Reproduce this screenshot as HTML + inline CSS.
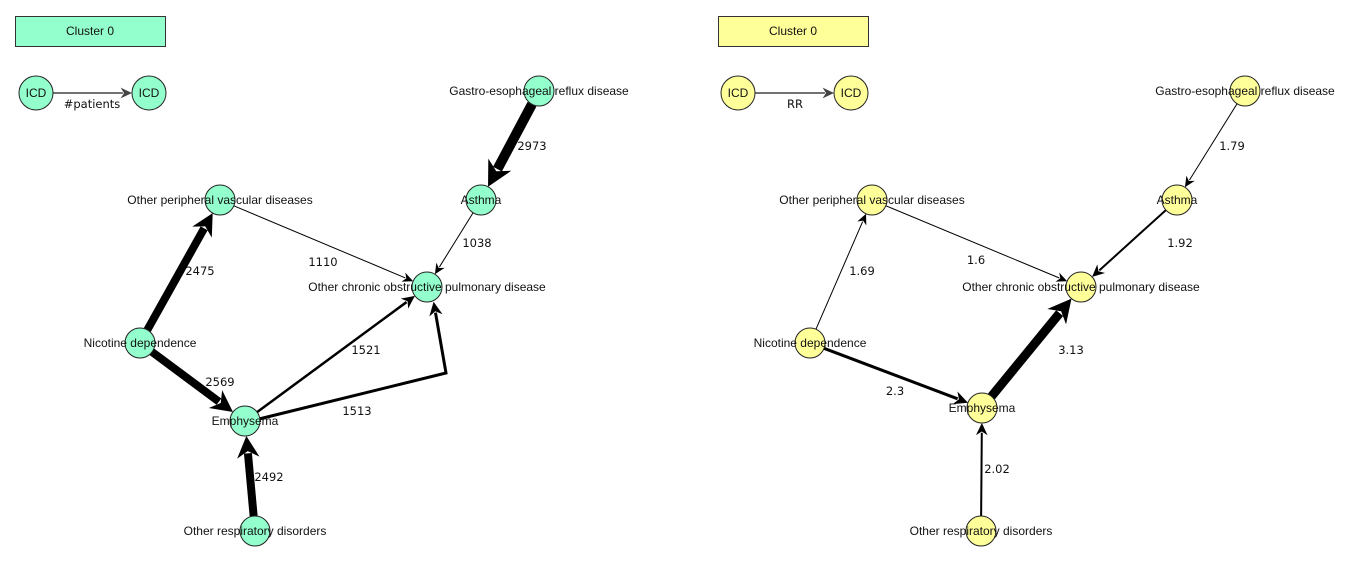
<!DOCTYPE html>
<html><head><meta charset="utf-8"><style>
html,body{margin:0;padding:0;background:#fff;}
svg{display:block;font-family:"Liberation Sans",sans-serif;}
.nl{font-family:"Liberation Sans",sans-serif;font-size:12px;fill:#111;text-anchor:middle;}
.el{font-family:"DejaVu Sans","Liberation Sans",sans-serif;font-size:11.5px;fill:#111;text-anchor:middle;}
</style></head><body>
<svg id="s" width="1352" height="562" viewBox="0 0 1352 562" xmlns="http://www.w3.org/2000/svg">
<rect x="15.5" y="16.5" width="150" height="30" fill="#93ffcc" stroke="#333" stroke-width="1"/>
<text x="90" y="35" class="nl">Cluster 0</text>
<rect x="718.5" y="16.5" width="150" height="30" fill="#ffff9a" stroke="#333" stroke-width="1"/>
<text x="793" y="35" class="nl">Cluster 0</text>
<g id="edges"></g><g id="nodes"></g><g id="labels"></g>
</svg>
<script>
var NS="http://www.w3.org/2000/svg";
function el(t,a,p,txt){var e=document.createElementNS(NS,t);for(var k in a)e.setAttribute(k,a[k]);if(txt!==undefined)e.textContent=txt;document.getElementById(p).appendChild(e);return e;}
var RX=15,RY=15;
function node(x,y,c,label,r){r=r||15;el("ellipse",{cx:x,cy:y,rx:r,ry:r,fill:c,stroke:"#222","stroke-width":1},"nodes");el("text",{x:x,y:y+4,"class":"nl"},"labels",label);}
function edge(pts,w,col,lab,lx,ly,r){
 col=col||"#000";r=r||15;
 var n=pts.length,a=pts[n-2],b=pts[n-1];
 var dx=b[0]-a[0],dy=b[1]-a[1],L=Math.hypot(dx,dy),ux=dx/L,uy=dy/L;
 var t=r;
 var tip=[b[0]-ux*t,b[1]-uy*t];
 var al=9+w*1.6,aw=4+w*0.9;
 var base=[tip[0]-ux*al,tip[1]-uy*al];
 var s=pts[0];
 if(n==2){var s2=pts[1];var ddx=s2[0]-s[0],ddy=s2[1]-s[1],LL=Math.hypot(ddx,ddy),vx=ddx/LL,vy=ddy/LL;s=[s[0]+vx*r,s[1]+vy*r];}
 var d="M"+s[0]+" "+s[1];for(var i=1;i<n-1;i++)d+=" L"+pts[i][0]+" "+pts[i][1];
 var ins=[tip[0]-ux*al*0.8,tip[1]-uy*al*0.8];
 d+=" L"+ins[0]+" "+ins[1];
 el("path",{d:d,fill:"none",stroke:col,"stroke-width":w,"stroke-linejoin":"miter"},"edges");
 var px=-uy,py=ux;
 var p1=[base[0]+px*aw,base[1]+py*aw],p2=[base[0]-px*aw,base[1]-py*aw];
 var notch=[tip[0]-ux*al*0.7,tip[1]-uy*al*0.7];
 el("polygon",{points:tip.join(",")+" "+p1.join(",")+" "+notch.join(",")+" "+p2.join(","),fill:col},"edges");
 if(lab)el("text",{x:lx,y:ly,"class":"el"},"labels",lab);
}
var G="#93ffcc",Y="#ffff9a";
var L={i1:[36,93],i2:[149,93],ga:[539,91],as:[481,200],op:[220,200],co:[427,287],ni:[140,343],em:[245,421],or:[255,531]};
edge([L.i1,L.i2],1.5,"#444","#patients",92,108,17);
edge([L.ga,L.as],10,null,"2973",532,150);
edge([L.as,L.co],1,null,"1038",477,247);
edge([L.op,L.co],1,null,"1110",323,266);
edge([L.ni,L.op],8,null,"2475",200,275);
edge([L.ni,L.em],8,null,"2569",220,386);
edge([L.em,L.co],2.5,null,"1521",366,354);
edge([[L.em[0]+14,L.em[1]-2],[446,373],[431,287]],3,null,"1513",357,415);
edge([L.or,L.em],8,null,"2492",269,481);
node(L.i1[0],L.i1[1],G,"ICD",17);node(L.i2[0],L.i2[1],G,"ICD",17);
node(L.ga[0],L.ga[1],G,"Gastro-esophageal reflux disease");
node(L.as[0],L.as[1],G,"Asthma");
node(L.op[0],L.op[1],G,"Other peripheral vascular diseases");
node(L.co[0],L.co[1],G,"Other chronic obstructive pulmonary disease");
node(L.ni[0],L.ni[1],G,"Nicotine dependence");
node(L.em[0],L.em[1],G,"Emphysema");
node(L.or[0],L.or[1],G,"Other respiratory disorders");
var R={i1:[738,93],i2:[851,93],ga:[1245,91],as:[1177,200],op:[872,200],co:[1081,287],ni:[810,343],em:[982,408],or:[981,531]};
edge([R.i1,R.i2],1.5,"#444","RR",795,108,17);
edge([R.ga,R.as],1,null,"1.79",1232,150);
edge([R.as,R.co],2,null,"1.92",1180,247);
edge([R.op,R.co],1,null,"1.6",976,264);
edge([R.ni,R.op],1,null,"1.69",862,275);
edge([R.ni,R.em],3,null,"2.3",895,395);
edge([R.em,R.co],9,null,"3.13",1071,354);
edge([R.or,R.em],2,null,"2.02",997,473);
node(R.i1[0],R.i1[1],Y,"ICD",17);node(R.i2[0],R.i2[1],Y,"ICD",17);
node(R.ga[0],R.ga[1],Y,"Gastro-esophageal reflux disease");
node(R.as[0],R.as[1],Y,"Asthma");
node(R.op[0],R.op[1],Y,"Other peripheral vascular diseases");
node(R.co[0],R.co[1],Y,"Other chronic obstructive pulmonary disease");
node(R.ni[0],R.ni[1],Y,"Nicotine dependence");
node(R.em[0],R.em[1],Y,"Emphysema");
node(R.or[0],R.or[1],Y,"Other respiratory disorders");
</script>
</body></html>
